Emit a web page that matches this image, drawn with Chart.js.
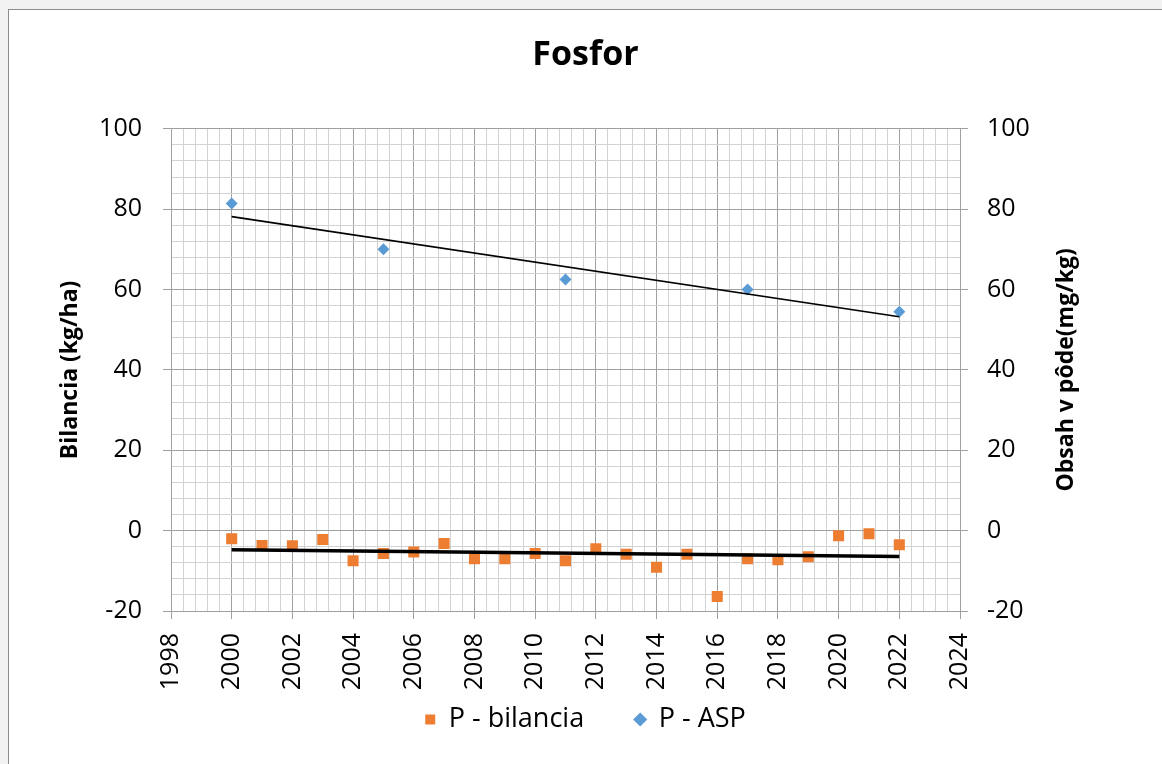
<!DOCTYPE html>
<html>
<head>
<meta charset="utf-8">
<script src="https://cdn.jsdelivr.net/npm/chart.js@4.4.0/dist/chart.umd.min.js"></script>
<style>
  body { margin: 0; background: #f2f2f2; }
  #frame {
    position: absolute; left: 8px; top: 9px; width: 1154px; height: 755px;
    box-sizing: border-box; background: #fff;
    border-top: 1px solid #8c8c8c; border-left: 1px solid #8c8c8c;
  }
</style>
</head>
<body>
<div id="frame"><canvas id="chart"></canvas></div>
<script>
// P - bilancia (kg/ha), rok 2000-2022
const years = [2000, 2001, 2002, 2003, 2004, 2005, 2006, 2007, 2008, 2009, 2010, 2011,
               2012, 2013, 2014, 2015, 2016, 2017, 2018, 2019, 2020, 2021, 2022];
const bilancia = [-2.0, -3.7, -3.75, -2.2, -7.5, -5.7, -5.3, -3.2, -7.0, -7.0, -5.7, -7.5,
                  -4.5, -5.9, -9.1, -5.9, -16.4, -7.0, -7.25, -6.5, -1.3, -0.8, -3.5];
// P - ASP obsah v pode (mg/kg)
const aspYears = [2000, 2005, 2011, 2017, 2022];
const asp = [81.4, 70.0, 62.5, 60.0, 54.5];

const xMin = 1998, xMax = 2024, xStep = 0.4, xLabelStep = 2;
const yMin = -20, yMax = 100, yStep = 4, yLabelStep = 20;

const FONT = "'Open Sans', sans-serif";
const MAJOR = '#a0a0a0';
const MINOR = '#d2d2d2';

function isMajor(v, step) {
  return Math.abs(v / step - Math.round(v / step)) < 1e-6;
}

// linearny trend (ako v Exceli)
function trend(xs, ys) {
  const n = xs.length;
  const mx = xs.reduce((a, b) => a + b, 0) / n;
  const my = ys.reduce((a, b) => a + b, 0) / n;
  let sxy = 0, sxx = 0;
  for (let i = 0; i < n; i++) {
    sxy += (xs[i] - mx) * (ys[i] - my);
    sxx += (xs[i] - mx) * (xs[i] - mx);
  }
  const b = sxy / sxx, a = my - b * mx;
  return [xs[0], xs[n - 1]].map(x => ({ x: x, y: a + b * x }));
}

const toPoints = (xs, ys) => xs.map((x, i) => ({ x: x, y: ys[i] }));

const rightTitle = {
  id: 'rightTitle',
  afterDraw(chart) {
    const ctx = chart.ctx;
    const area = chart.chartArea;
    ctx.save();
    ctx.translate(1057, (area.top + area.bottom) / 2);
    ctx.rotate(-Math.PI / 2);
    ctx.font = "bold 23px " + FONT;
    ctx.fillStyle = '#000';
    ctx.textAlign = 'center';
    ctx.textBaseline = 'middle';
    ctx.fillText('Obsah v pôde(mg/kg)', 0, 0);
    ctx.restore();
  }
};

const ctx = document.getElementById('chart').getContext('2d');
const myChart = new Chart(ctx, {
  type: 'scatter',
  data: {
    datasets: [{
      label: 'P - bilancia',
      data: toPoints(years, bilancia),
      yAxisID: 'y',
      pointStyle: 'rect',
      pointRadius: 7.8,
      pointHoverRadius: 7.8,
      backgroundColor: '#ed7d31',
      borderColor: '#ed7d31',
      borderWidth: 0,
      order: 2
    }, {
      label: 'P - ASP',
      data: toPoints(aspYears, asp),
      yAxisID: 'y2',
      pointStyle: 'rectRot',
      pointRadius: 6,
      pointHoverRadius: 6,
      backgroundColor: '#5b9bd5',
      borderColor: '#5b9bd5',
      borderWidth: 0,
      order: 2
    }, {
      label: 'trend bilancia',
      data: trend(years, bilancia),
      yAxisID: 'y',
      showLine: true,
      pointRadius: 0,
      borderColor: '#000',
      borderWidth: 3.5,
      order: 1
    }, {
      label: 'trend ASP',
      data: trend(aspYears, asp),
      yAxisID: 'y2',
      showLine: true,
      pointRadius: 0,
      borderColor: '#000',
      borderWidth: 1.6,
      order: 1
    }]
  },
  options: {
    responsive: true,
    maintainAspectRatio: false,
    animation: false,
    layout: { padding: { bottom: 21 } },
    plugins: {
      title: {
        display: true,
        text: 'Fosfor',
        color: '#000',
        font: { family: FONT, size: 34, weight: 'bold' },
        padding: { top: 25, bottom: 53 }
      },
      legend: {
        position: 'bottom',
        labels: {
          usePointStyle: true,
          boxWidth: 10,
          boxHeight: 10,
          padding: 10,
          color: '#000',
          font: { family: FONT, size: 27 },
          generateLabels: chart => {
            const items = Chart.defaults.plugins.legend.labels.generateLabels(chart)
              .filter(item => item.text.indexOf('trend') !== 0);
            // vacsia medzera medzi polozkami legendy
            items.forEach((item, i) => { if (i < items.length - 1) item.text += '\u2003  '; });
            return items;
          }
        }
      },
      tooltip: { enabled: false }
    },
    scales: {
      x: {
        type: 'linear',
        min: xMin,
        max: xMax,
        afterFit: s => { s.height = 85; },
        ticks: {
          stepSize: xStep,
          autoSkip: false,
          minRotation: 90,
          maxRotation: 90,
          padding: 14,
          color: '#000',
          font: { family: FONT, size: 25 },
          callback: v => isMajor(v, xLabelStep) ? String(Math.round(v)) : ''
        },
        grid: {
          color: c => isMajor(c.tick.value, xLabelStep) ? MAJOR : MINOR,
          tickColor: c => isMajor(c.tick.value, xLabelStep) ? MAJOR : 'rgba(0,0,0,0)',
          tickLength: 8,
          lineWidth: 1
        },
        border: { color: MAJOR }
      },
      y: {
        position: 'left',
        min: yMin,
        max: yMax,
        afterFit: s => { s.width = 162; },
        title: {
          display: true,
          text: 'Bilancia (kg/ha)',
          color: '#000',
          font: { family: FONT, size: 23, weight: 'bold' },
          padding: { top: 48, bottom: 0 }
        },
        ticks: {
          stepSize: yStep,
          autoSkip: false,
          padding: 21,
          color: '#000',
          font: { family: FONT, size: 25 },
          callback: v => isMajor(v, yLabelStep) ? String(v) : ''
        },
        grid: {
          color: c => isMajor(c.tick.value, yLabelStep) ? MAJOR : MINOR,
          tickColor: c => isMajor(c.tick.value, yLabelStep) ? MAJOR : 'rgba(0,0,0,0)',
          tickLength: 8
        },
        border: { color: MAJOR }
      },
      y2: {
        position: 'right',
        min: yMin,
        max: yMax,
        afterFit: s => { s.width = 202; },
        ticks: {
          stepSize: yStep,
          autoSkip: false,
          padding: 19,
          color: '#000',
          font: { family: FONT, size: 25 },
          callback: v => isMajor(v, yLabelStep) ? String(v) : ''
        },
        grid: {
          drawOnChartArea: false,
          tickColor: c => isMajor(c.tick.value, yLabelStep) ? MAJOR : 'rgba(0,0,0,0)',
          tickLength: 8
        },
        border: { color: MAJOR }
      }
    }
  },
  plugins: [rightTitle]
});
</script>
</body>
</html>
